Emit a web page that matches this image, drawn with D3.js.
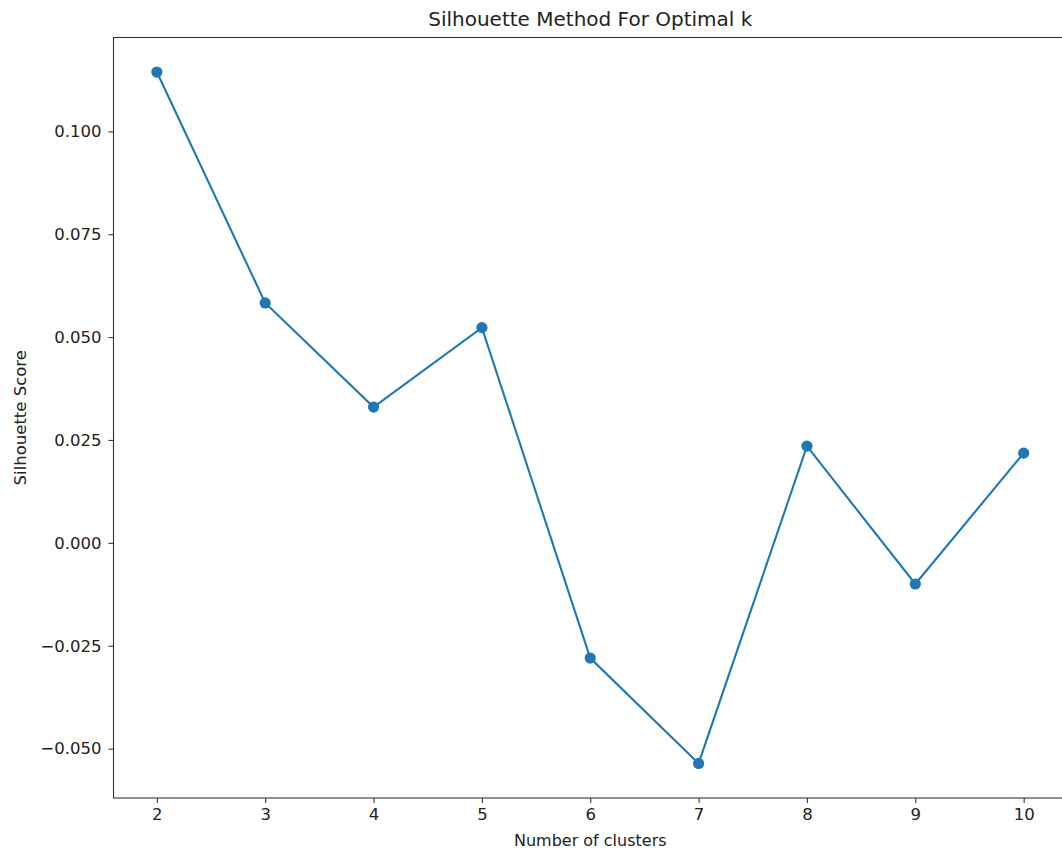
<!DOCTYPE html>
<html>
<head>
<meta charset="utf-8">
<script src="https://cdn.jsdelivr.net/npm/d3@7"></script>
<style>
  body { margin: 0; background: #fff; }
  text { font-family: "DejaVu Sans", sans-serif; fill: #222; }
</style>
</head>
<body>
<div id="chart"></div>
<script>
// data
var clusters = [2, 3, 4, 5, 6, 7, 8, 9, 10];
var scores = [0.1144, 0.0583, 0.0330, 0.0523, -0.0280, -0.0536, 0.0235, -0.0100, 0.0218];
var yTicks = [-0.050, -0.025, 0.000, 0.025, 0.050, 0.075, 0.100];

var W = 1062, H = 851;
var margin = {top: 37.5, right: -5, bottom: 53, left: 113.5},
    width = W - margin.left - margin.right,
    height = H - margin.top - margin.bottom;

var svg = d3.select("#chart")
  .append("svg")
    .attr("width", W)
    .attr("height", H);

var g = svg.append("g")
    .attr("transform", "translate(" + margin.left + "," + margin.top + ")");

// matplotlib style 5% margins
var xPad = (d3.max(clusters) - d3.min(clusters)) * 0.05;
var x = d3.scaleLinear()
  .domain([d3.min(clusters) - xPad, d3.max(clusters) + xPad])
  .range([0, width]);

var yPad = (d3.max(scores) - d3.min(scores)) * 0.05;
var y = d3.scaleLinear()
  .domain([d3.min(scores) - yPad, d3.max(scores) + yPad])
  .range([height, 0]);

// x axis
var xAxis = g.append("g")
  .attr("transform", "translate(0," + height + ")")
  .call(d3.axisBottom(x).tickValues(clusters).tickFormat(d3.format("d")).tickSize(5).tickPadding(5));

// y axis
var yAxis = g.append("g")
  .call(d3.axisLeft(y).tickValues(yTicks).tickFormat(function(d) {
      return d3.format(".3f")(d).replace("-", "\u2212");
    }).tickSize(5).tickPadding(7));

[xAxis, yAxis].forEach(function(a) {
  a.select(".domain").remove();
  a.selectAll("line").attr("stroke", "#333").attr("stroke-width", 1.1);
  a.selectAll("text").style("font-size", "16.5px").style("fill", "#222");
});

// frame
g.append("rect")
  .attr("width", width)
  .attr("height", height)
  .attr("fill", "none")
  .attr("stroke", "#333")
  .attr("stroke-width", 1.1);

// line
g.append("path")
  .datum(clusters)
  .attr("fill", "none")
  .attr("stroke", "#1f77b4")
  .attr("stroke-width", 2.1)
  .attr("d", d3.line()
    .x(function(d) { return x(d); })
    .y(function(d, i) { return y(scores[i]); }));

// markers
g.selectAll(".dot")
  .data(clusters)
  .enter().append("circle")
    .attr("class", "dot")
    .attr("cx", function(d) { return x(d); })
    .attr("cy", function(d, i) { return y(scores[i]); })
    .attr("r", 5.6)
    .attr("fill", "#1f77b4");

// title and labels
var cx = margin.left + (W + 5 - margin.left) / 2;
svg.append("text")
  .attr("x", cx)
  .attr("y", 26)
  .attr("text-anchor", "middle")
  .style("font-size", "20px")
  .text("Silhouette Method For Optimal k");

svg.append("text")
  .attr("x", cx)
  .attr("y", 846)
  .attr("text-anchor", "middle")
  .style("font-size", "16px")
  .text("Number of clusters");

svg.append("text")
  .attr("transform", "translate(26," + (margin.top + height / 2) + ") rotate(-90)")
  .attr("text-anchor", "middle")
  .style("font-size", "16.5px")
  .text("Silhouette Score");
</script>
</body>
</html>
